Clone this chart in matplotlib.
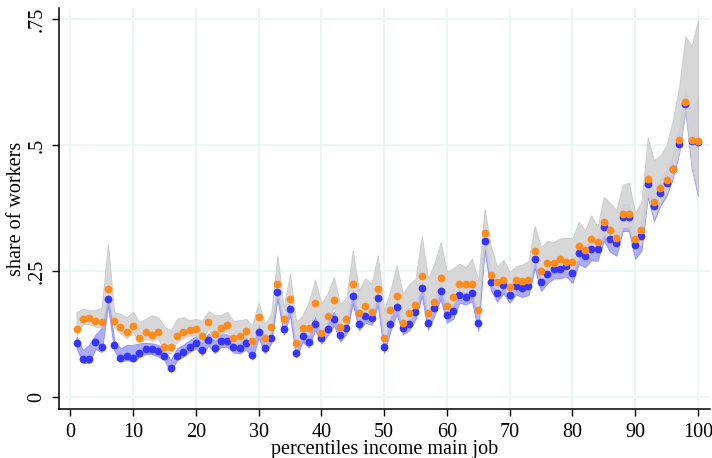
import matplotlib
matplotlib.use("Agg")
import matplotlib.pyplot as plt
import numpy as np

pct = list(range(1, 101))

orange = [0.136,0.156,0.157,0.151,0.150,0.214,0.151,0.139,0.129,0.142,
          0.118,0.129,0.124,0.129,0.099,0.099,0.122,0.130,0.134,0.135,
          0.121,0.149,0.126,0.138,0.143,0.117,0.121,0.132,0.112,0.159,
          0.117,0.140,0.224,0.156,0.196,0.108,0.138,0.137,0.187,0.128,
          0.161,0.194,0.139,0.156,0.224,0.168,0.181,0.169,0.214,0.118,
          0.173,0.202,0.147,0.167,0.183,0.240,0.167,0.189,0.236,0.182,
          0.199,0.224,0.224,0.224,0.173,0.325,0.243,0.228,0.233,0.218,
          0.233,0.231,0.233,0.290,0.251,0.267,0.267,0.275,0.269,0.269,
          0.300,0.292,0.314,0.308,0.348,0.331,0.317,0.363,0.363,0.314,
          0.331,0.433,0.388,0.415,0.432,0.453,0.510,0.585,0.510,0.508]

orange_hi = [0.169,0.176,0.173,0.173,0.179,0.305,0.169,0.166,0.159,0.170,
             0.149,0.156,0.163,0.159,0.140,0.133,0.156,0.159,0.153,0.156,
             0.152,0.171,0.163,0.163,0.170,0.152,0.153,0.156,0.143,0.189,
             0.146,0.166,0.282,0.179,0.245,0.149,0.163,0.189,0.234,0.185,
             0.206,0.239,0.185,0.199,0.292,0.212,0.236,0.225,0.282,0.173,
             0.212,0.262,0.206,0.225,0.235,0.321,0.236,0.265,0.308,0.249,
             0.256,0.265,0.258,0.275,0.232,0.374,0.300,0.259,0.273,0.249,
             0.260,0.263,0.271,0.340,0.298,0.310,0.308,0.315,0.317,0.315,
             0.348,0.331,0.361,0.338,0.398,0.386,0.371,0.421,0.426,0.366,
             0.388,0.515,0.470,0.480,0.500,0.550,0.616,0.716,0.696,0.748]

orange_lo = [0.124,0.145,0.146,0.140,0.139,0.200,0.139,0.127,0.117,0.130,
             0.107,0.117,0.112,0.117,0.088,0.088,0.110,0.118,0.122,0.123,
             0.109,0.137,0.114,0.126,0.131,0.105,0.109,0.120,0.100,0.146,
             0.105,0.128,0.210,0.143,0.182,0.096,0.125,0.124,0.173,0.116,
             0.148,0.180,0.126,0.143,0.209,0.155,0.167,0.156,0.199,0.106,
             0.159,0.187,0.134,0.153,0.169,0.224,0.153,0.175,0.220,0.167,
             0.184,0.208,0.208,0.208,0.158,0.306,0.227,0.212,0.217,0.202,
             0.217,0.215,0.217,0.272,0.234,0.249,0.249,0.256,0.250,0.250,
             0.279,0.272,0.292,0.287,0.324,0.308,0.294,0.337,0.337,0.290,
             0.306,0.403,0.356,0.386,0.405,0.440,0.487,0.574,0.458,0.404]

blue = [0.107,0.077,0.077,0.109,0.100,0.196,0.103,0.079,0.083,0.079,
        0.089,0.095,0.095,0.091,0.083,0.058,0.083,0.090,0.100,0.107,
        0.093,0.113,0.098,0.111,0.111,0.099,0.097,0.107,0.085,0.130,
        0.097,0.118,0.209,0.136,0.176,0.089,0.121,0.110,0.146,0.118,
        0.135,0.156,0.123,0.138,0.201,0.146,0.161,0.157,0.197,0.099,
        0.145,0.179,0.138,0.146,0.169,0.216,0.148,0.177,0.211,0.163,
        0.171,0.204,0.200,0.207,0.147,0.310,0.229,0.206,0.222,0.204,
        0.221,0.216,0.220,0.275,0.229,0.245,0.255,0.255,0.260,0.247,
        0.287,0.280,0.295,0.295,0.337,0.315,0.307,0.358,0.358,0.302,
        0.319,0.423,0.379,0.405,0.425,0.452,0.502,0.581,0.509,0.507]

blue_lo = [0.098,0.068,0.068,0.096,0.090,0.182,0.094,0.071,0.074,0.071,
           0.080,0.086,0.086,0.081,0.074,0.050,0.074,0.081,0.090,0.097,
           0.084,0.103,0.088,0.100,0.100,0.089,0.087,0.096,0.075,0.119,
           0.087,0.107,0.196,0.124,0.163,0.079,0.110,0.099,0.134,0.107,
           0.123,0.143,0.111,0.126,0.187,0.133,0.148,0.144,0.183,0.088,
           0.132,0.165,0.125,0.133,0.155,0.201,0.134,0.162,0.195,0.148,
           0.156,0.188,0.184,0.191,0.132,0.292,0.213,0.190,0.206,0.188,
           0.204,0.199,0.203,0.256,0.211,0.226,0.236,0.236,0.240,0.227,
           0.265,0.258,0.272,0.271,0.311,0.289,0.281,0.330,0.330,0.275,
           0.291,0.398,0.350,0.380,0.400,0.435,0.484,0.570,0.455,0.400]

blue_hi = [0.121,0.094,0.104,0.124,0.138,0.207,0.113,0.097,0.104,0.104,
           0.107,0.108,0.107,0.104,0.097,0.073,0.097,0.104,0.113,0.121,
           0.107,0.127,0.112,0.125,0.125,0.113,0.111,0.121,0.099,0.143,
           0.111,0.132,0.220,0.150,0.189,0.102,0.134,0.124,0.160,0.131,
           0.149,0.170,0.137,0.152,0.215,0.160,0.175,0.170,0.210,0.112,
           0.159,0.193,0.152,0.160,0.183,0.230,0.162,0.191,0.226,0.178,
           0.186,0.219,0.216,0.222,0.162,0.326,0.244,0.222,0.238,0.220,
           0.237,0.232,0.236,0.292,0.246,0.262,0.272,0.272,0.278,0.265,
           0.306,0.299,0.316,0.316,0.360,0.338,0.330,0.383,0.383,0.326,
           0.344,0.450,0.405,0.432,0.452,0.480,0.535,0.610,0.560,0.600]

xticks = [0, 10, 20, 30, 40, 50, 60, 70, 80, 90, 100]
yticks = [0, 0.25, 0.5, 0.75]
ytick_labels = ["0", ".25", ".5", ".75"]

plt.rcParams['font.family'] = ['Liberation Serif', 'DejaVu Serif']

fig = plt.figure(figsize=(7.12, 4.58), dpi=100)
ax = fig.add_axes([0.0824, 0.107, 0.9146, 0.8755])

grid_c = "#eaf2f3"
for xt in xticks:
    ax.axvline(xt, color=grid_c, lw=1.2, zorder=0)
for yt in yticks:
    ax.axhline(yt, color=grid_c, lw=1.2, zorder=0)

ax.fill_between(pct, blue_lo, blue_hi, facecolor="#acacff",
                edgecolor="#9292ff", lw=0.7, zorder=1)
ax.fill_between(pct, orange_lo, orange_hi, facecolor="#d4d4d4",
                edgecolor="#c8c8c8", lw=0.6, alpha=0.93, zorder=2)
ax.plot(pct, blue, 'o', color="#3535ff", ms=5.6, mec="none", zorder=3)
ax.plot(pct, orange, 'o', color="#ff8c1a", ms=5.6, mec="none", zorder=4)

ax.set_xlim(-1.85, 101.9)
ax.set_ylim(-0.023, 0.772)
ax.set_xticks(xticks)
ax.set_xticklabels([str(v) for v in xticks])
ax.set_yticks(yticks)
ax.set_yticklabels(ytick_labels, rotation=90, va='center')
ax.tick_params(axis='both', direction='out', length=5, width=1,
               labelsize=14.5, colors='black')
ax.tick_params(axis='x', pad=5)
ax.tick_params(axis='y', pad=4)
for s in ['top', 'right']:
    ax.spines[s].set_visible(False)
for s in ['left', 'bottom']:
    ax.spines[s].set_linewidth(1.1)
ax.set_xlabel("percentiles income main job", fontsize=14.5, labelpad=-1)
ax.set_ylabel("share of workers", fontsize=14.5, labelpad=1)

fig.savefig("out.png", dpi=100)
